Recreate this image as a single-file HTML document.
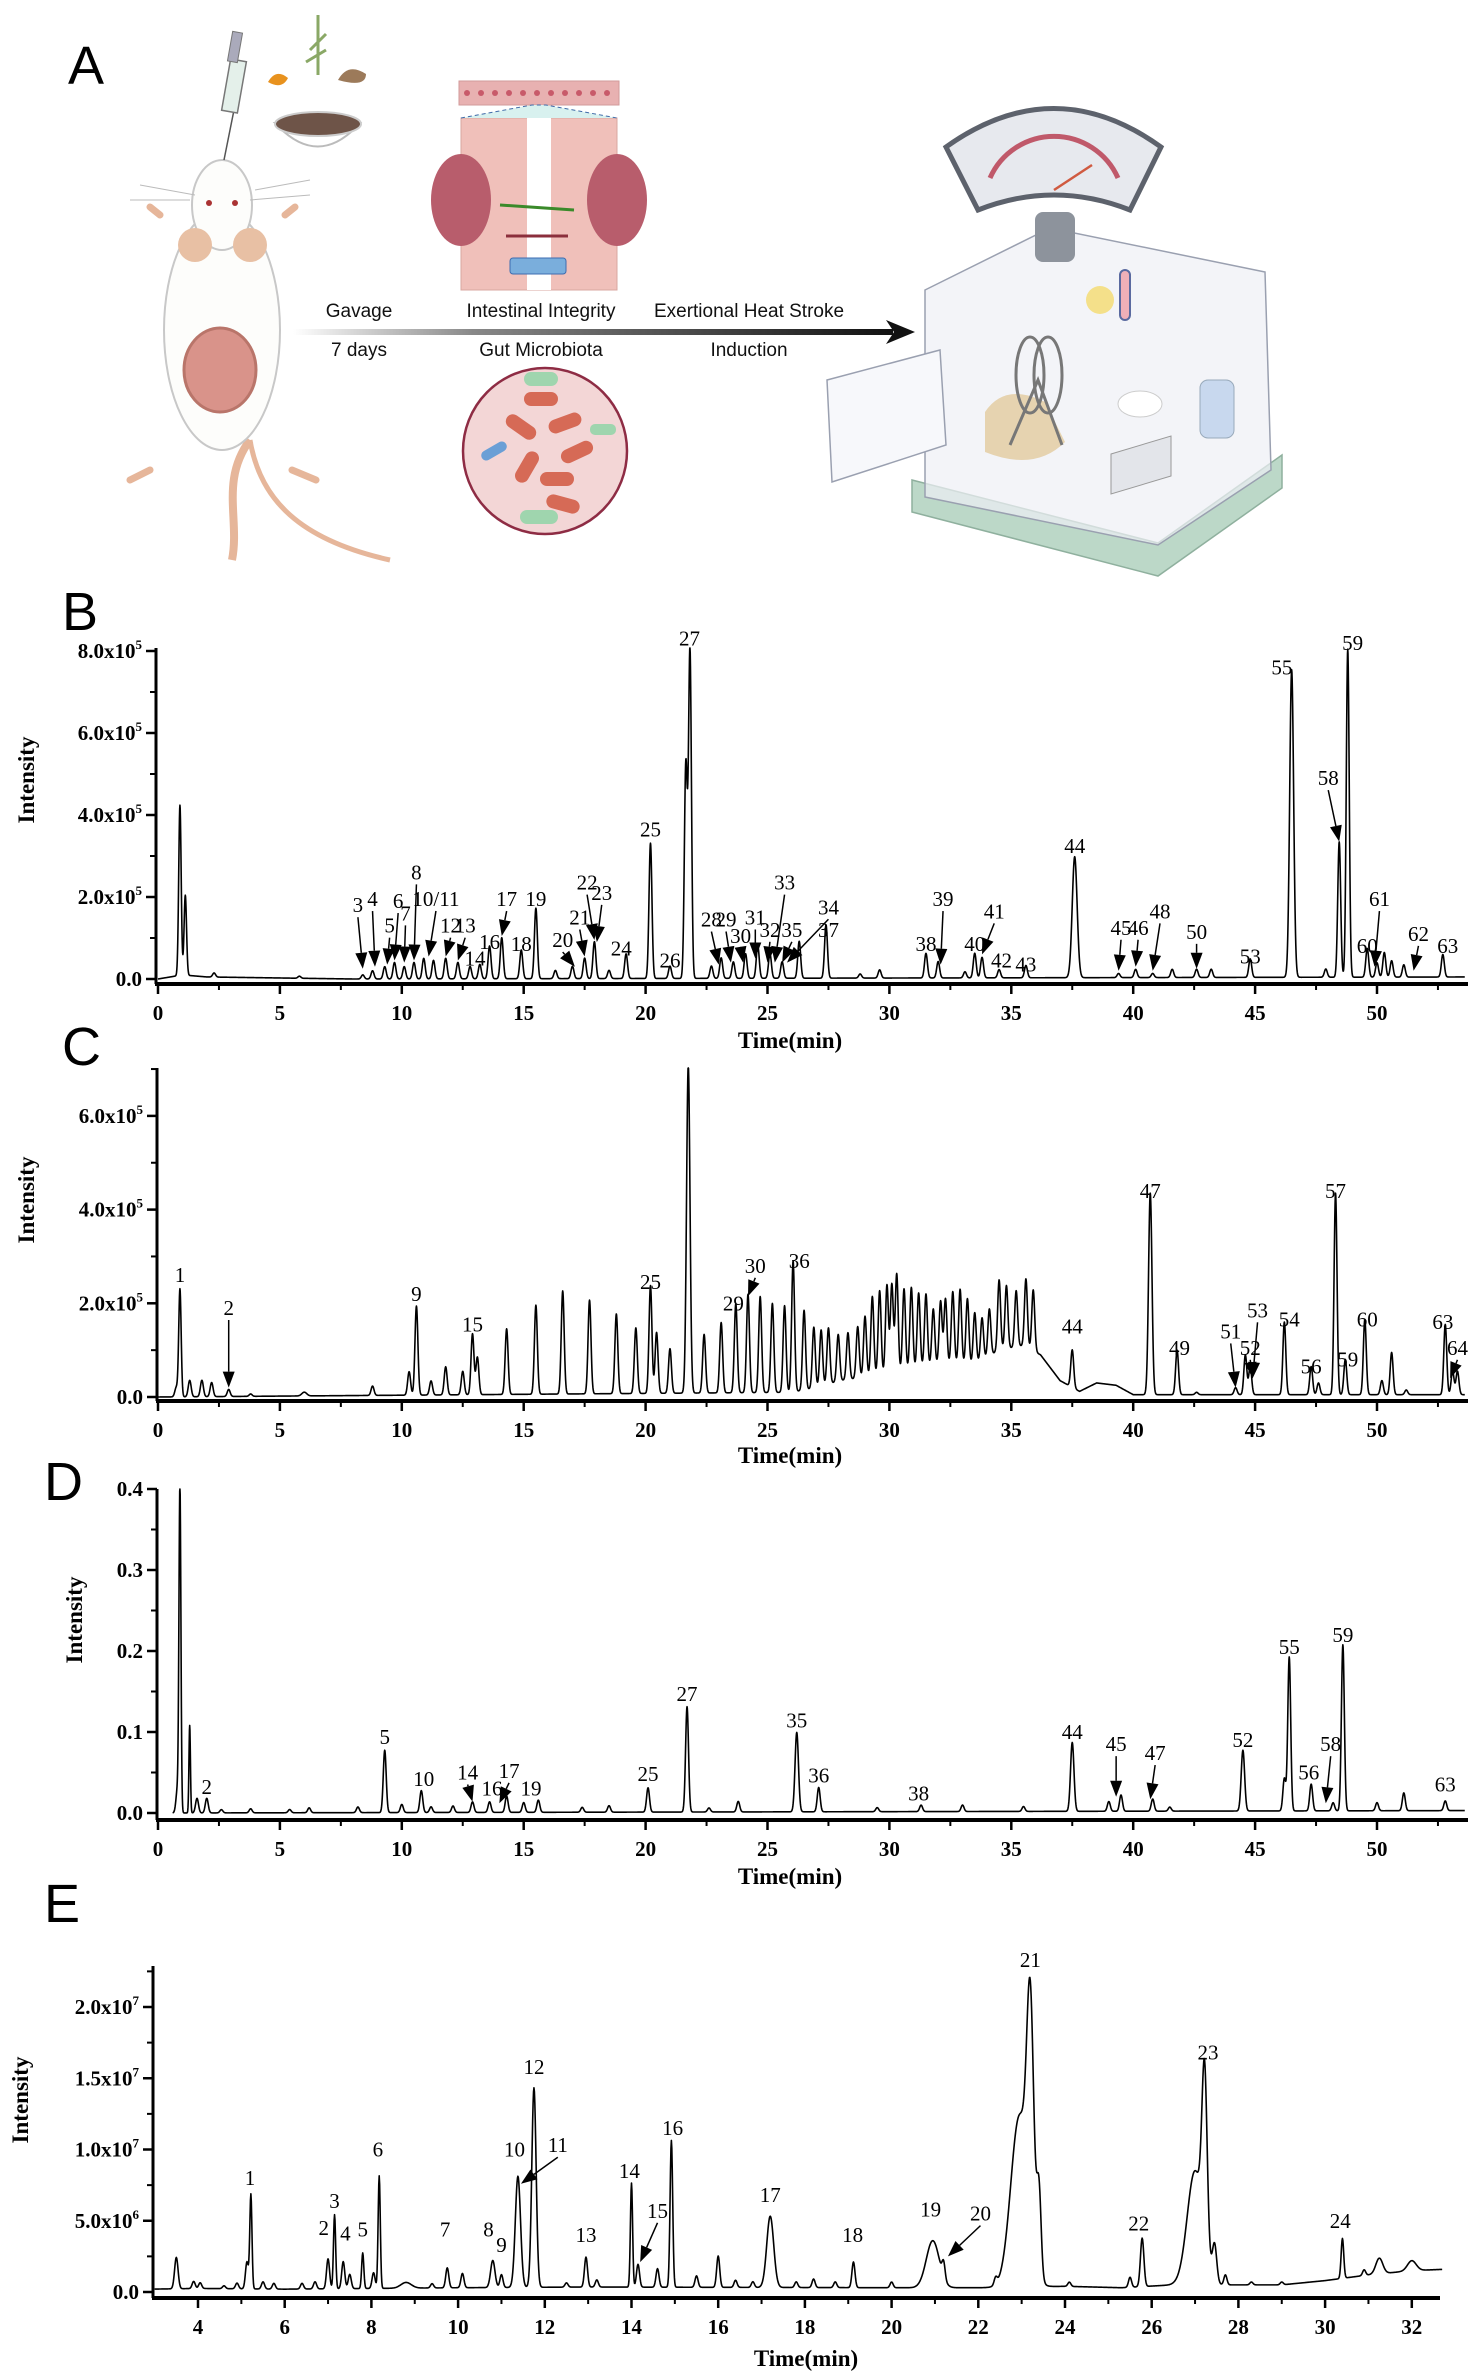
<!DOCTYPE html>
<html><head><meta charset="utf-8"><title>Figure</title>
<style>
html,body{margin:0;padding:0;background:#fff;}
svg{display:block;}
.tick{font-family:"Liberation Serif",serif;font-weight:bold;font-size:21px;fill:#000;}
.pl{font-family:"Liberation Serif",serif;font-size:21px;fill:#000;}
.ax{font-family:"Liberation Serif",serif;font-weight:bold;font-size:23px;fill:#000;}
.panel{font-family:"Liberation Sans",sans-serif;font-size:54px;fill:#000;}
.atxt{font-family:"Liberation Sans",sans-serif;font-size:19px;fill:#111;}
</style></head>
<body>
<svg id="fig" width="1479" height="2378" viewBox="0 0 1479 2378" xmlns="http://www.w3.org/2000/svg">
<defs>
<linearGradient id="arrowGrad" x1="0" x2="1"><stop offset="0" stop-color="#fff"/><stop offset="0.3" stop-color="#888"/><stop offset="1" stop-color="#111"/></linearGradient>
</defs>
<g>
<text class="panel" x="68" y="84">A</text>
<g>
<path d="M232,560 C240,520 220,480 250,440" fill="none" stroke="#e6b69a" stroke-width="8"/>
<path d="M250,440 C260,500 300,540 390,560" fill="none" stroke="#e6b69a" stroke-width="5"/>
<ellipse cx="222" cy="330" rx="58" ry="120" fill="#fdfdfb" stroke="#c8c8c8" stroke-width="2"/>
<ellipse cx="222" cy="205" rx="30" ry="45" fill="#fdfdfb" stroke="#c8c8c8" stroke-width="2"/>
<circle cx="195" cy="245" r="17" fill="#e8c0a4"/>
<circle cx="250" cy="245" r="17" fill="#e8c0a4"/>
<circle cx="209" cy="203" r="3" fill="#a33"/>
<circle cx="235" cy="203" r="3" fill="#a33"/>
<ellipse cx="220" cy="370" rx="36" ry="42" fill="#d9938a" stroke="#b9756a" stroke-width="3"/>
<path d="M160,215 l-10,-8 M285,215 l10,-8 M150,470 l-20,10 M292,470 l24,10" stroke="#e6b69a" stroke-width="7" stroke-linecap="round"/>
<path d="M130,200 l60,0 M250,200 l60,-5 M140,185 l55,10 M255,190 l55,-10" stroke="#bbb" stroke-width="1"/>
</g>
<g>
<line x1="224" y1="160" x2="234" y2="110" stroke="#555" stroke-width="1.5"/>
<rect x="226" y="60" width="16" height="52" fill="#e4f0ea" stroke="#777" stroke-width="1.5" transform="rotate(10 234 86)"/>
<rect x="230" y="32" width="10" height="30" fill="#aab" stroke="#777" transform="rotate(10 235 47)"/>
</g>
<g>
<path d="M275,123 Q318,170 360,123 Z" fill="#fff" stroke="#bbb" stroke-width="2"/>
<ellipse cx="318" cy="124" rx="43" ry="12" fill="#6e5448" stroke="#ccc" stroke-width="2"/>
<path d="M268,82 q8,-14 20,-4 q-6,12 -20,4z" fill="#e8921e"/>
<path d="M338,80 q10,-18 28,-6 q0,14 -28,6z" fill="#9c7a5a"/>
<path d="M318,75 l0,-60 M310,50 l16,-16 M306,62 l20,-12" stroke="#8aa866" stroke-width="3"/>
</g>
<g>
<rect x="459" y="81" width="160" height="24" fill="#e8b1b1" stroke="#d29a9a"/>
<g fill="#c85a6a"><circle cx="467" cy="93" r="3"/><circle cx="481" cy="93" r="3"/><circle cx="495" cy="93" r="3"/><circle cx="509" cy="93" r="3"/><circle cx="523" cy="93" r="3"/><circle cx="537" cy="93" r="3"/><circle cx="551" cy="93" r="3"/><circle cx="565" cy="93" r="3"/><circle cx="579" cy="93" r="3"/><circle cx="593" cy="93" r="3"/><circle cx="607" cy="93" r="3"/></g>
<rect x="461" y="118" width="156" height="172" fill="#f0c0ba" stroke="#d8a7a0"/>
<rect x="527" y="118" width="24" height="172" fill="#fff"/>
<path d="M461,118 L532,105 L546,105 L617,118" fill="#d8f1ef" stroke="#3f6aa8" stroke-dasharray="4,3"/>
<ellipse cx="461" cy="200" rx="30" ry="46" fill="#b85d6c"/>
<ellipse cx="617" cy="200" rx="30" ry="46" fill="#b85d6c"/>
<line x1="500" y1="205" x2="574" y2="210" stroke="#3a8a2a" stroke-width="3"/>
<rect x="510" y="258" width="56" height="16" rx="3" fill="#7aaedc" stroke="#3d6cb0"/>
<line x1="506" y1="236" x2="568" y2="236" stroke="#8b2f3c" stroke-width="3"/>
</g>
<g>
<ellipse cx="545" cy="451" rx="82" ry="83" fill="#f3d6d6" stroke="#8e2c44" stroke-width="2.5"/>
<rect x="524" y="392" width="34" height="14" rx="7" fill="#d66a56"/>
<rect x="504" y="420" width="34" height="14" rx="7" fill="#d66a56" transform="rotate(35 521 427)"/>
<rect x="548" y="416" width="34" height="14" rx="7" fill="#d66a56" transform="rotate(-20 565 423)"/>
<rect x="560" y="445" width="34" height="14" rx="7" fill="#d66a56" transform="rotate(-25 577 452)"/>
<rect x="510" y="460" width="34" height="14" rx="7" fill="#d66a56" transform="rotate(-60 527 467)"/>
<rect x="540" y="472" width="34" height="14" rx="7" fill="#d66a56"/>
<rect x="546" y="497" width="34" height="14" rx="7" fill="#d66a56" transform="rotate(15 563 504)"/>
<rect x="524" y="372" width="34" height="14" rx="7" fill="#9fd5ae"/>
<rect x="590" y="424" width="26" height="11" rx="5" fill="#9fd5ae"/>
<rect x="520" y="510" width="38" height="14" rx="7" fill="#9fd5ae"/>
<rect x="480" y="446" width="28" height="10" rx="5" fill="#6a9fd6" transform="rotate(-30 494 451)"/>
</g>
<rect x="293" y="329" width="600" height="6" fill="url(#arrowGrad)"/>
<path d="M886,320 L915,332 L886,344 L894,332 Z" fill="#111"/>
<text class="atxt" x="359" y="317" text-anchor="middle">Gavage</text>
<text class="atxt" x="359" y="356" text-anchor="middle">7 days</text>
<text class="atxt" x="541" y="317" text-anchor="middle">Intestinal Integrity</text>
<text class="atxt" x="541" y="356" text-anchor="middle">Gut Microbiota</text>
<text class="atxt" x="749" y="317" text-anchor="middle">Exertional Heat Stroke</text>
<text class="atxt" x="749" y="356" text-anchor="middle">Induction</text>
<g>
<path d="M912,512 L1158,576 L1282,488 L1282,455 L1158,543 L912,480 Z" fill="#bcd8c8" stroke="#8fb09e" stroke-width="1.5"/>
<path d="M925,290 L1050,228 L1265,272 L1271,470 L1158,545 L925,497 Z" fill="#eef0f5" fill-opacity="0.7" stroke="#9aa0b0" stroke-width="1.5"/>
<path d="M827,380 L940,350 L946,445 L832,482 Z" fill="#f7f8fb" stroke="#9aa0b0" stroke-width="1.5"/>
<path d="M985,412 q20,-30 60,-10 l20,40 q-30,30 -80,10z" fill="#e6d3b0"/>
<ellipse cx="1048" cy="375" rx="14" ry="38" fill="none" stroke="#777" stroke-width="3"/>
<ellipse cx="1030" cy="375" rx="14" ry="38" fill="none" stroke="#777" stroke-width="3"/>
<path d="M1010,445 L1038,380 L1062,445" fill="none" stroke="#777" stroke-width="3"/>
<ellipse cx="1140" cy="404" rx="22" ry="13" fill="#fff" stroke="#ccc"/>
<rect x="1200" y="380" width="34" height="58" rx="8" fill="#c8d8ee" stroke="#9ab"/>
<path d="M1111,454 l60,-18 l0,40 l-60,18z" fill="#e3e5ea" stroke="#999"/>
<circle cx="1100" cy="300" r="14" fill="#f4e08a"/>
<rect x="1120" y="270" width="10" height="50" rx="5" fill="#f0b0b8" stroke="#5a6aa0" stroke-width="2"/>
<rect x="1035" y="212" width="40" height="50" rx="8" fill="#8d939c"/>
<path d="M946,147 Q1054,70 1161,147 L1130,210 Q1054,180 978,210 Z" fill="#e7e9ee" stroke="#5d626c" stroke-width="5"/>
<path d="M990,178 A70,70 0 0 1 1118,178" fill="none" stroke="#c0596a" stroke-width="5"/>
<line x1="1054" y1="190" x2="1092" y2="165" stroke="#d05a40" stroke-width="2.5"/>
</g>
</g>

<g id="charts"></g>

<script>
// ---------- Panel B data (intensity in 1e5) ----------
const bPeaks = [[0.9,4.15,0.05],[1.12,1.95,0.05],[2.3,0.1],[5.8,0.05],[8.4,0.1],[8.8,0.2],[9.3,0.3],[9.7,0.4],[10.1,0.3],[10.5,0.4],[10.9,0.5],[11.3,0.45],[11.8,0.5],[12.3,0.4],[12.8,0.3],[13.2,0.35],[13.6,0.8],[14.1,1.0],[14.9,0.7],[15.5,1.72],[16.3,0.2],[17.0,0.3],[17.5,0.5],[17.9,0.9],[18.5,0.2],[19.2,0.6],[20.2,3.3],[21.0,0.3],[21.65,5.2],[21.82,8.0],[22.7,0.3],[23.1,0.5],[23.6,0.4],[24.1,0.6],[24.6,0.8],[25.1,0.6],[25.6,0.4],[26.3,0.9],[27.4,1.3],[28.8,0.1],[29.6,0.2],[31.5,0.6],[32.0,0.4],[33.1,0.15],[33.5,0.6],[33.8,0.5],[34.5,0.2],[35.6,0.3],[37.6,2.95,0.1],[39.4,0.1],[40.1,0.2],[40.8,0.1],[41.6,0.2],[42.6,0.2],[43.2,0.2],[44.8,0.45],[46.5,7.5,0.08],[47.9,0.2],[48.45,3.3],[48.8,8.0],[49.6,0.7],[50.0,0.35],[50.3,0.6],[50.6,0.4],[51.1,0.3],[52.7,0.55]];
const bBase = [[0,0],[1,0.1],[2,0.05],[8,0],[54,0.05]];
const bLabels = [["3",8.2,1.8,8.4,0.25],["4",8.8,1.95,8.9,0.3],["5",9.5,1.3,9.4,0.35],["6",9.85,1.9,9.7,0.45],["7",10.15,1.6,10.1,0.4],["8",10.6,2.6,10.5,0.45],["10/11",11.4,1.95,11.1,0.55],["12",12.0,1.3,11.8,0.55],["13",12.6,1.3,12.3,0.45],["14",13.0,0.5],["16",13.6,0.9],["17",14.3,1.95,14.1,1.05],["18",14.9,0.85],["19",15.5,1.95],["20",16.6,0.95,17.1,0.3],["21",17.3,1.5,17.5,0.55],["22",17.6,2.35,17.9,0.95],["23",18.2,2.1,18.0,0.9],["24",19.0,0.75],["25",20.2,3.65],["26",21.0,0.45],["27",21.8,8.3],["28",22.7,1.45,23.0,0.35],["29",23.3,1.45,23.5,0.4],["30",23.9,1.05,24.0,0.4],["31",24.5,1.5,24.5,0.5],["32",25.1,1.2,25.0,0.4],["33",25.7,2.35,25.3,0.4],["34",27.5,1.75,25.8,0.4],["35",26.0,1.2,25.6,0.4],["37",27.5,1.2],["38",31.5,0.85],["39",32.2,1.95,32.1,0.35],["40",33.5,0.85],["41",34.3,1.65,33.8,0.6],["42",34.6,0.45],["43",35.6,0.35],["44",37.6,3.25],["45",39.5,1.25,39.4,0.2],["46",40.2,1.25,40.1,0.3],["48",41.1,1.65,40.8,0.2],["50",42.6,1.15,42.6,0.25],["53",44.8,0.55],["55",46.1,7.6],["58",48.0,4.9,48.45,3.35],["59",49.0,8.2],["60",49.6,0.8],["61",50.1,1.95,49.9,0.3],["62",51.7,1.1,51.5,0.2],["63",52.9,0.8]];
const bYTicks = [0,2,4,6,8];
const bYLabels = ["0.0","2.0x10|5","4.0x10|5","6.0x10|5","8.0x10|5"];

// ---------- Panel C data (1e5) ----------
const cPeaks = [[0.75,0.2],[0.9,2.3,0.05],[1.3,0.35],[1.8,0.35],[2.2,0.3],[2.9,0.15],[3.8,0.05],[6.0,0.08,0.1],[8.8,0.2],[10.3,0.5],[10.6,1.9],[11.2,0.3],[11.8,0.6],[12.5,0.5],[12.9,1.3],[13.1,0.8],[14.3,1.4],[15.5,1.9],[16.6,2.2],[17.7,2.0],[18.8,1.7],[19.6,1.4],[20.2,2.3],[20.45,1.3],[21.0,0.95],[21.75,7.0,0.07],[22.4,1.25],[23.1,1.5],[23.7,1.9],[24.2,2.1],[24.7,2.05],[25.2,1.9],[25.7,1.85],[26.05,2.8],[26.5,1.7],[26.9,1.3],[27.2,1.2],[27.5,1.2],[27.9,1.0],[28.3,1.0],[28.7,1.1],[29.0,1.3],[29.3,1.7],[29.6,1.8],[29.9,1.9],[30.1,1.9],[30.3,2.1],[30.6,1.75],[30.9,1.75],[31.2,1.6],[31.5,1.55],[31.8,1.2],[32.1,1.35],[32.3,1.4],[32.6,1.55],[32.9,1.6],[33.2,1.4],[33.5,1.1],[33.8,0.9],[34.1,1.0],[34.5,1.5],[34.8,1.35],[35.2,1.2],[35.6,1.45],[35.9,1.3],[37.5,0.8],[40.7,4.3,0.07],[41.8,0.95],[42.6,0.05],[44.2,0.15],[44.6,0.85],[44.8,0.6],[46.2,1.55],[47.3,0.6],[47.6,0.25],[48.3,4.3],[48.7,0.75],[49.5,1.6],[50.2,0.3],[50.6,0.9],[51.2,0.1],[52.8,1.5],[53.1,0.5],[53.3,0.5]];
const cBase = [[0,0],[26,0.1],[27,0.2],[28,0.35],[30,0.5],[32,0.7],[33.5,0.7],[34.5,1.0],[35.5,1.1],[36.2,0.9],[37,0.35],[37.8,0.12],[38.5,0.3],[39.3,0.25],[40,0.05],[54,0.05]];
const cLabels = [["1",0.9,2.6],["2",2.9,1.9,2.9,0.2],["9",10.6,2.2],["15",12.9,1.55],["25",20.2,2.45],["29",23.6,2.0],["30",24.5,2.8,24.2,2.15],["36",26.3,2.9],["44",37.5,1.5],["47",40.7,4.4],["49",41.9,1.05],["51",44.0,1.4,44.2,0.2],["52",44.8,1.05,44.9,0.4],["53",45.1,1.85,44.9,0.4],["54",46.4,1.65],["56",47.3,0.65],["57",48.3,4.4],["59",48.8,0.8],["60",49.6,1.65],["63",52.7,1.6],["64",53.3,1.05,53.0,0.4]];
const cYTicks = [0,2,4,6];
const cYLabels = ["0.0","2.0x10|5","4.0x10|5","6.0x10|5"];

// ---------- Panel D data (absorbance) ----------
const dPeaks = [[0.8,0.03],[0.9,0.4,0.04],[1.3,0.108,0.03],[1.6,0.018],[2.0,0.018],[2.6,0.004],[3.8,0.005],[5.4,0.004],[6.2,0.006],[8.2,0.007],[9.3,0.077,0.06],[10.0,0.01],[10.8,0.027],[11.2,0.007],[12.1,0.008],[12.9,0.013],[13.6,0.013],[14.3,0.02],[15.0,0.012],[15.6,0.015],[17.4,0.006],[18.5,0.008],[20.1,0.03],[21.7,0.13,0.06],[22.6,0.005],[23.8,0.013],[26.2,0.098,0.07],[27.1,0.03],[29.5,0.005],[31.3,0.008],[33.0,0.008],[35.5,0.006],[37.5,0.085,0.07],[39.0,0.012],[39.5,0.02],[40.8,0.015],[41.5,0.005],[44.5,0.075,0.07],[46.2,0.04],[46.4,0.19,0.06],[47.3,0.033],[48.2,0.01],[48.6,0.205,0.06],[50.0,0.01],[51.1,0.022],[52.8,0.012]];
const dBase = [[0,0],[54,0.003]];
const dLabels = [["2",2.0,0.032],["5",9.3,0.094],["10",10.9,0.042],["14",12.7,0.05,12.9,0.014],["16",13.7,0.03],["17",14.4,0.052,14.0,0.012],["19",15.3,0.03],["25",20.1,0.048],["27",21.7,0.147],["35",26.2,0.114],["36",27.1,0.046],["38",31.2,0.024],["44",37.5,0.1],["45",39.3,0.085,39.3,0.02],["47",40.9,0.074,40.7,0.017],["52",44.5,0.09],["55",46.4,0.205],["56",47.2,0.05],["58",48.1,0.085,47.9,0.012],["59",48.6,0.22],["63",52.8,0.035]];
const dYTicks = [0,0.1,0.2,0.3,0.4];
const dYLabels = ["0.0","0.1","0.2","0.3","0.4"];

// ---------- Panel E data (1e6) ----------
const ePeaks = [[3.5,2.2,0.04],[3.9,0.5],[4.05,0.4],[4.6,0.2],[4.9,0.4],[5.13,1.9],[5.22,6.6,0.025],[5.5,0.5],[5.75,0.4],[6.4,0.4],[6.7,0.5],[7.0,2.1],[7.15,5.2,0.025],[7.35,1.9],[7.5,1.0],[7.8,2.5,0.025],[8.05,1.1],[8.18,7.9,0.025],[8.8,0.4,0.12],[9.4,0.3],[9.75,1.4],[10.1,1.0],[10.8,1.9,0.05],[11.0,0.9],[11.38,7.8,0.06],[11.75,14.0,0.05],[12.5,0.3],[12.95,2.1],[13.2,0.5],[14.0,7.3,0.025],[14.15,1.6],[14.6,1.3],[14.92,10.3,0.03],[15.5,0.8],[16.0,2.2],[16.4,0.5],[16.8,0.4],[17.2,5.0,0.08],[17.8,0.4],[18.2,0.6],[18.7,0.4],[19.12,1.8],[20.0,0.4],[20.95,3.3,0.15],[21.2,1.1],[22.4,0.5],[22.95,12.0,0.2],[23.2,16.0,0.08],[23.4,6.0,0.05],[24.1,0.3],[25.5,0.7],[25.78,3.4,0.04],[27.0,8.0,0.18],[27.22,12.0,0.06],[27.45,2.6,0.05],[27.7,0.7],[28.3,0.2],[29.0,0.2],[30.4,2.8,0.03],[30.9,0.4],[31.25,1.1,0.08],[32.0,0.7,0.1]];
const eBase = [[2.9,0.2],[4,0.25],[6,0.2],[10,0.3],[13,0.35],[20,0.3],[22,0.3],[24,0.4],[25.3,0.3],[26.5,0.5],[29,0.5],[30,0.8],[31,1.2],[32,1.5],[32.8,1.6]];
const eLabels = [["1",5.2,8.0],["2",6.9,4.5],["3",7.15,6.4],["4",7.4,4.1],["5",7.8,4.4],["6",8.15,10.0],["7",9.7,4.4],["8",10.7,4.4],["9",11.0,3.3],["10",11.3,10.0],["11",12.3,10.3,11.45,7.6],["12",11.75,15.8],["13",12.95,4.0],["14",13.95,8.5],["15",14.6,5.7,14.2,2.1],["16",14.95,11.5],["17",17.2,6.8],["18",19.1,4.0],["19",20.9,5.8],["20",22.05,5.5,21.3,2.5],["21",23.2,23.3],["22",25.7,4.8],["23",27.3,16.8],["24",30.35,5.0]];
const eYTicks = [0,5,10,15,20];
const eYLabels = ["0.0","5.0x10|6","1.0x10|7","1.5x10|7","2.0x10|7"];
const eXTicks = [4,6,8,10,12,14,16,18,20,22,24,26,28,30,32];
const bcdXTicks = [0,5,10,15,20,25,30,35,40,45,50];

const NS = "http://www.w3.org/2000/svg";
const root = document.getElementById('charts');
function mk(tag, attrs, parent) {
  const e = document.createElementNS(NS, tag);
  for (const k in attrs) e.setAttribute(k, attrs[k]);
  (parent || root).appendChild(e);
  return e;
}
function interp(base, t) {
  if (t <= base[0][0]) return base[0][1];
  for (let i = 1; i < base.length; i++) {
    if (t <= base[i][0]) {
      const a = base[i-1], b = base[i];
      return a[1] + (b[1]-a[1])*(t-a[0])/(b[0]-a[0]);
    }
  }
  return base[base.length-1][1];
}
function drawPanel(o) {
  const g = mk('g', {});
  
  
  const X = t => o.x0 + (t - o.t0) * o.ppm;
  const Y = v => o.y0 - v * o.ppu;
  const L = mk('text', {class:'panel', x:o.letterX, y:o.letterY}, g);
  L.textContent = o.letter;
  
  
  const ya = mk('line', {x1:o.axX, y1:o.axisTop, x2:o.axX, y2:o.axisY, stroke:'#000', 'stroke-width':3}, g);
  
  
  const xa = mk('line', {x1:o.axX-1, y1:o.axisY, x2:o.axEnd, y2:o.axisY, stroke:'#000', 'stroke-width':4}, g);
  
  
  const xt = mk('g', {}, g);
  
  
  for (let i = 0; i < o.xTicks.length; i++) {
    const t = o.xTicks[i];
    mk('line', {x1:X(t), y1:o.axisY, x2:X(t), y2:o.axisY+10, stroke:'#000','stroke-width':2.5}, xt);
    const mt = t + o.xMinor;
    if (X(mt) < o.axEnd) mk('line', {x1:X(mt), y1:o.axisY, x2:X(mt), y2:o.axisY+6, stroke:'#000','stroke-width':2}, xt);
    const tx = mk('text', {class:'tick', x:X(t), y:o.axisY+36, 'text-anchor':'middle'}, xt);
    tx.textContent = String(t);
    
    
  }
  const xtitle = mk('text', {class:'ax', x:o.titleX, y:o.titleY, 'text-anchor':'middle'}, g);
  xtitle.textContent = 'Time(min)';
  
  
  const yt = mk('g', {}, g);
  
  
  for (let i = 0; i < o.yTicks.length; i++) {
    const v = o.yTicks[i];
    mk('line', {x1:o.axX-10, y1:Y(v), x2:o.axX, y2:Y(v), stroke:'#000','stroke-width':2.5}, yt);
    if (i < o.yTicks.length - 1) {
      const mv = (v + o.yTicks[i+1]) / 2;
      mk('line', {x1:o.axX-6, y1:Y(mv), x2:o.axX, y2:Y(mv), stroke:'#000','stroke-width':2}, yt);
    } else if (o.yExtraMinor) {
      const mv = v + (v - o.yTicks[i-1]) / 2;
      mk('line', {x1:o.axX-6, y1:Y(mv), x2:o.axX, y2:Y(mv), stroke:'#000','stroke-width':2}, yt);
    }
    const tx = mk('text', {class:'tick', x:o.axX-14, y:Y(v)+7, 'text-anchor':'end'}, yt);
    
    
    const parts = o.yLabels[i].split('|');
    tx.appendChild(document.createTextNode(parts[0]));
    if (parts.length > 1) {
      const s = document.createElementNS(NS, 'tspan');
      s.setAttribute('font-size', '13');
      s.setAttribute('dy', '-9');
      s.textContent = parts[1];
      tx.appendChild(s);
    }
  }
  const ytitle = mk('text', {class:'ax', x:0, y:0, 'text-anchor':'middle', transform:'translate(' + o.yTitleX + ',' + o.yTitleY + ') rotate(-90)'}, g);
  ytitle.textContent = 'Intensity';
  
  
  let d = '';
  for (let t = o.tStart; t <= o.tEnd + 1e-9; t += 0.01) {
    let v = interp(o.base, t);
    for (const p of o.peaks) {
      const s = p[2] || o.sigma;
      const z = (t - p[0]) / s;
      if (Math.abs(z) < 6) v += p[1] * Math.exp(-0.5 * z * z);
    }
    d += (d ? 'L' : 'M') + X(t).toFixed(2) + ',' + Math.max(Y(v), o.axisTop).toFixed(2);
  }
  const tr = mk('path', {d:d, fill:'none', stroke:'#000', 'stroke-width':1.6, 'stroke-linejoin':'round'}, g);
  
  
  for (const lb of o.labels) {
    const tx = mk('text', {class:'pl', x:X(lb[1]), y:Y(lb[2]) + 7, 'text-anchor':'middle'}, g);
    tx.textContent = lb[0];
    
    
    if (lb.length > 3) {
      const x1 = X(lb[1]), y1 = Y(lb[2]) + 12, x2 = X(lb[3]), y2 = Y(lb[4]);
      const ar = mk('g', {}, g);
      
      
      const ang = Math.atan2(y2 - y1, x2 - x1);
      const hx = x2 - 16 * Math.cos(ang), hy = y2 - 16 * Math.sin(ang);
      mk('line', {x1:x1, y1:y1, x2:hx, y2:hy, stroke:'#000', 'stroke-width':1.5}, ar);
      const px = -Math.sin(ang) * 6, py = Math.cos(ang) * 6;
      mk('path', {d:'M' + x2 + ',' + y2 + 'L' + (hx + px) + ',' + (hy + py) + 'L' + (hx - px) + ',' + (hy - py) + 'Z', fill:'#000'}, ar);
    }
  }
}
drawPanel({name:'panel-b-chromatogram', letter:'B', letterX:62, letterY:630, x0:158, t0:0, ppm:24.38, y0:979, ppu:41, axX:156, axEnd:1468, axisY:984, axisTop:648, tStart:0, tEnd:53.6, sigma:0.06, peaks:bPeaks, base:bBase, labels:bLabels, yTicks:bYTicks, yLabels:bYLabels, yExtraMinor:false, xTicks:bcdXTicks, xMinor:2.5, titleX:790, titleY:1048, yTitleX:34, yTitleY:780});
drawPanel({name:'panel-c-chromatogram', letter:'C', letterX:62, letterY:1065, x0:158, t0:0, ppm:24.38, y0:1397, ppu:46.85, axX:157, axEnd:1468, axisY:1401, axisTop:1068, tStart:0, tEnd:53.6, sigma:0.06, peaks:cPeaks, base:cBase, labels:cLabels, yTicks:cYTicks, yLabels:cYLabels, yExtraMinor:true, xTicks:bcdXTicks, xMinor:2.5, titleX:790, titleY:1463, yTitleX:34, yTitleY:1200});
drawPanel({name:'panel-d-chromatogram', letter:'D', letterX:44, letterY:1500, x0:158, t0:0, ppm:24.38, y0:1813, ppu:810, axX:157, axEnd:1468, axisY:1820, axisTop:1489, tStart:0.6, tEnd:53.6, sigma:0.06, peaks:dPeaks, base:dBase, labels:dLabels, yTicks:dYTicks, yLabels:dYLabels, yExtraMinor:false, xTicks:bcdXTicks, xMinor:2.5, titleX:790, titleY:1884, yTitleX:82, yTitleY:1620});
drawPanel({name:'panel-e-chromatogram', letter:'E', letterX:44, letterY:1922, x0:198, t0:4, ppm:43.35, y0:2292, ppu:14.25, axX:153, axEnd:1440, axisY:2298, axisTop:1966, tStart:3.0, tEnd:32.7, sigma:0.035, peaks:ePeaks, base:eBase, labels:eLabels, yTicks:eYTicks, yLabels:eYLabels, yExtraMinor:true, xTicks:eXTicks, xMinor:1, titleX:806, titleY:2366, yTitleX:28, yTitleY:2100});
</script>
</svg>
</body></html>
